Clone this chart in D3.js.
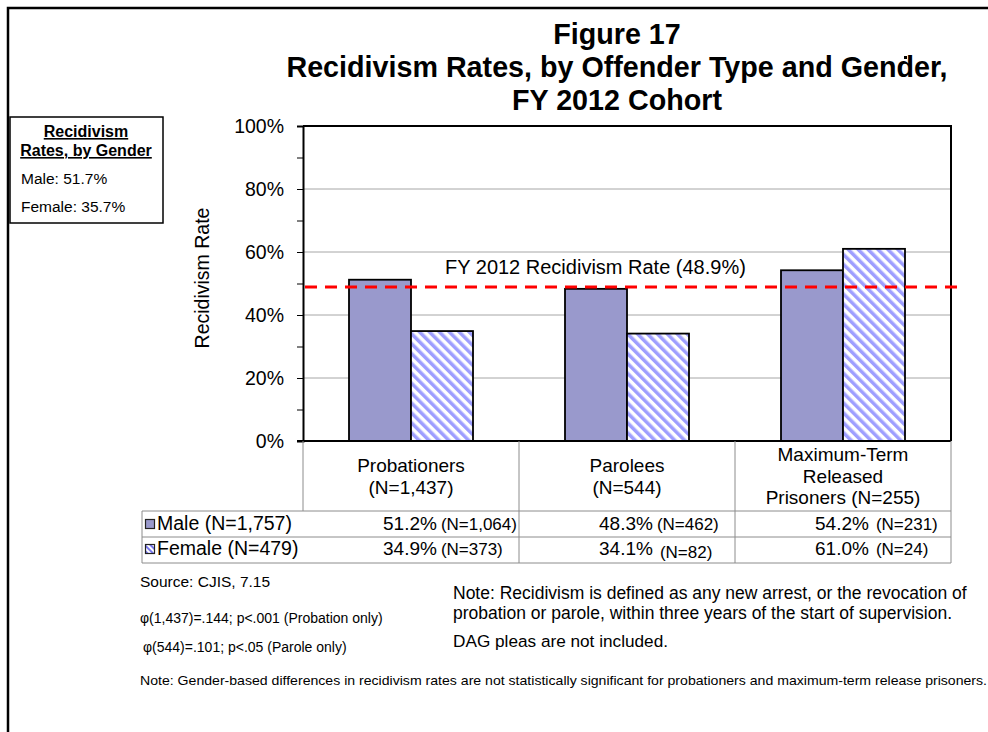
<!DOCTYPE html>
<html>
<head>
<meta charset="utf-8">
<script src="https://cdn.jsdelivr.net/npm/d3@7/dist/d3.min.js"></script>
<style>
  html, body { margin: 0; padding: 0; background: #fff; }
  svg { display: block; font-family: "Liberation Sans", Arial, Helvetica, sans-serif; }
</style>
</head>
<body>
<svg id="chart" width="988" height="732"></svg>
<script>
// Recidivism rates by offender type and gender
const categories = [
  ["Probationers", "(N=1,437)"],
  ["Parolees", "(N=544)"],
  ["Maximum-Term", "Released", "Prisoners (N=255)"]
];
const seriesNames = ["Male", "Female"];
const seriesLabels = ["Male (N=1,757)", "Female (N=479)"];
const maleRates = [51.2, 48.3, 54.2];
const femaleRates = [34.9, 34.1, 61.0];
const maleN = ["(N=1,064)", "(N=462)", "(N=231)"];
const femaleN = ["(N=373)", "(N=82)", "(N=24)"];
const overallRate = 48.9;
const yTickValues = [0, 10, 20, 30, 40, 50, 60, 70, 80, 90, 100];
const yLabelValues = [0, 20, 40, 60, 80, 100];
const titleLines = ["Figure 17", "Recidivism Rates, by Offender Type and Gender,", "FY 2012 Cohort"];
const genderBoxTitle = ["Recidivism", "Rates, by Gender"];
const genderBoxLines = ["Male: 51.7%", "Female: 35.7%"];
const sourceLines = ["Source: CJIS, 7.15"];
const statLines = ["\u03c6(1,437)=.144; p<.001 (Probation only)", "\u03c6(544)=.101; p<.05 (Parole only)"];
const noteLines = [
  "Note: Recidivism is defined as any new arrest, or the revocation of",
  "probation or parole, within three years of the start of supervision."
];
const dagNote = "DAG pleas are not included.";
const bottomNote = "Note: Gender-based differences in recidivism rates are not statistically significant for probationers and maximum-term release prisoners.";

const MALE_FILL = "#9999cc";
const HATCH = "#9e9eff";

const svg = d3.select("#chart");

// hatch pattern for the female series
const defs = svg.append("defs");
const pat = defs.append("pattern")
  .attr("id", "hatch")
  .attr("patternUnits", "userSpaceOnUse")
  .attr("width", 7).attr("height", 7)
  .attr("patternTransform", "rotate(-45)");
pat.append("rect").attr("width", 7).attr("height", 7).attr("fill", "#fff");
pat.append("rect").attr("width", 3.5).attr("height", 7).attr("fill", HATCH);

const pat2 = defs.append("pattern")
  .attr("id", "hatchSmall")
  .attr("patternUnits", "userSpaceOnUse")
  .attr("width", 4).attr("height", 4)
  .attr("patternTransform", "rotate(-45)");
pat2.append("rect").attr("width", 4).attr("height", 4).attr("fill", "#fff");
pat2.append("rect").attr("width", 2).attr("height", 4).attr("fill", "#7777ee");

// page frame
svg.append("path")
  .attr("d", "M8,732 V8 H988")
  .attr("fill", "none").attr("stroke", "#000").attr("stroke-width", 2.5);
svg.append("rect").attr("x", 904).attr("y", 56).attr("width", 3).attr("height", 3).attr("fill", "#000");

// title
const title = svg.append("text").attr("text-anchor", "middle")
  .attr("font-weight", "bold").attr("font-size", 28.7).attr("fill", "#000");
titleLines.forEach((t, i) => {
  title.append("tspan").attr("x", 617).attr("y", 44 + i * 33).text(t);
});

// scales
const plotLeft = 303, plotRight = 951, plotTop = 126, plotBottom = 441;
const x = d3.scaleBand().domain(d3.range(categories.length)).range([plotLeft, plotRight]);
const xs = d3.scaleBand().domain(seriesNames).range([46, 170]);
const y = d3.scaleLinear().domain([0, 100]).range([plotBottom, plotTop]);

// gridlines
svg.append("g").selectAll("line")
  .data(yLabelValues.filter(v => v > 0 && v < 100))
  .join("line")
  .attr("x1", plotLeft).attr("x2", plotRight)
  .attr("y1", d => y(d)).attr("y2", d => y(d))
  .attr("stroke", "#a6a6a6").attr("stroke-width", 1);

// bars
const rows = categories.map((c, i) => ({ i, Male: maleRates[i], Female: femaleRates[i] }));
const groups = svg.append("g").selectAll("g")
  .data(rows).join("g")
  .attr("transform", d => `translate(${x(d.i)},0)`);
groups.selectAll("rect")
  .data(d => seriesNames.map(s => ({ s, v: d[s] })))
  .join("rect")
  .attr("x", d => xs(d.s))
  .attr("width", xs.bandwidth())
  .attr("y", d => y(d.v))
  .attr("height", d => y(0) - y(d.v))
  .attr("fill", d => d.s === "Male" ? MALE_FILL : "url(#hatch)")
  .attr("stroke", "#000").attr("stroke-width", 1.8);

// plot frame (top and right)
svg.append("path")
  .attr("d", `M${plotLeft},${plotTop} H${plotRight} V${plotBottom}`)
  .attr("fill", "none").attr("stroke", "#000").attr("stroke-width", 2);

// y axis
const yAxis = svg.append("g")
  .attr("transform", `translate(${plotLeft},0)`)
  .call(d3.axisLeft(y).tickValues(yTickValues)
    .tickFormat(d => yLabelValues.includes(d) ? d + "%" : "")
    .tickSize(6).tickPadding(13));
yAxis.select(".domain").attr("stroke", "#000").attr("stroke-width", 2);
yAxis.selectAll(".tick line").attr("stroke", "#000").attr("stroke-width", 1);
yAxis.selectAll(".tick text")
  .attr("font-size", 19.5).attr("fill", "#000")
  .attr("font-family", "Liberation Sans, Arial, sans-serif");

// baseline
svg.append("line")
  .attr("x1", plotLeft - 6).attr("x2", plotRight)
  .attr("y1", y(0)).attr("y2", y(0))
  .attr("stroke", "#000").attr("stroke-width", 2);

// y axis title
svg.append("text")
  .attr("transform", `translate(209,278) rotate(-90)`)
  .attr("text-anchor", "middle").attr("font-size", 19.5).attr("fill", "#000")
  .text("Recidivism Rate");

// overall rate reference line
svg.append("line")
  .attr("x1", plotLeft + 2).attr("x2", 959)
  .attr("y1", y(overallRate)).attr("y2", y(overallRate))
  .attr("stroke", "#ff0000").attr("stroke-width", 3)
  .attr("stroke-dasharray", "12,8");
svg.append("text")
  .attr("x", 445).attr("y", 274)
  .attr("font-size", 20).attr("fill", "#000")
  .text(`FY 2012 Recidivism Rate (${overallRate}%)`);

// data table: category header cells
const tableLine = "#8c8c8c";
const headerBottom = 511, row1Bottom = 537, row2Bottom = 563, tableLeft = 142;
svg.append("g").selectAll("line")
  .data(d3.range(categories.length + 1))
  .join("line")
  .attr("x1", d => d < categories.length ? x(d) : plotRight)
  .attr("x2", d => d < categories.length ? x(d) : plotRight)
  .attr("y1", plotBottom).attr("y2", d => d === 0 ? headerBottom : row2Bottom)
  .attr("stroke", tableLine).attr("stroke-width", 1);
[headerBottom, row1Bottom, row2Bottom].forEach(yy => {
  svg.append("line").attr("x1", tableLeft).attr("x2", plotRight)
    .attr("y1", yy).attr("y2", yy).attr("stroke", tableLine).attr("stroke-width", 1);
});
svg.append("line").attr("x1", tableLeft).attr("x2", tableLeft)
  .attr("y1", headerBottom).attr("y2", row2Bottom)
  .attr("stroke", tableLine).attr("stroke-width", 1);

categories.forEach((lines, i) => {
  const cx = x(i) + x.bandwidth() / 2;
  const startY = lines.length === 2 ? 472 : 461;
  const t = svg.append("text").attr("text-anchor", "middle")
    .attr("font-size", 19).attr("fill", "#000");
  lines.forEach((ln, j) => {
    t.append("tspan").attr("x", cx).attr("y", startY + j * 21.5).text(ln);
  });
});

// data table: series rows
const seriesRows = [
  { name: seriesLabels[0], fill: MALE_FILL, vals: maleRates, ns: maleN, y: 530 },
  { name: seriesLabels[1], fill: "url(#hatchSmall)", vals: femaleRates, ns: femaleN, y: 555 }
];
const nShift = [[0, 0, 3], [0, 3, 3]];
const nDrop = [[0, 0, 0], [0, 3, 0]];
seriesRows.forEach((r, k) => {
  svg.append("rect").attr("x", 145.5).attr("y", r.y - 10.5)
    .attr("width", 9).attr("height", 9)
    .attr("fill", r.fill).attr("stroke", "#222").attr("stroke-width", 1.2);
  svg.append("text").attr("x", 157).attr("y", r.y)
    .attr("font-size", 19.5).attr("fill", "#000").text(r.name);
  r.vals.forEach((v, i) => {
    const t = svg.append("text").attr("x", x(i) + 80).attr("y", r.y)
      .attr("fill", "#000");
    t.append("tspan").attr("font-size", 19).text(v.toFixed(1) + "%");
    t.append("tspan").attr("font-size", 17)
      .attr("dx", 4 + nShift[k][i]).attr("dy", nDrop[k][i]).text(r.ns[i]);
  });
});

// gender summary box
svg.append("rect").attr("x", 10).attr("y", 117).attr("width", 153).attr("height", 106)
  .attr("fill", "#fff").attr("stroke", "#000").attr("stroke-width", 1.5);
genderBoxTitle.forEach((t, i) => {
  svg.append("text").attr("x", 86).attr("y", 137 + i * 19)
    .attr("text-anchor", "middle").attr("font-size", 16).attr("font-weight", "bold")
    .attr("text-decoration", "underline").attr("fill", "#000").text(t);
});
genderBoxLines.forEach((t, i) => {
  svg.append("text").attr("x", 21).attr("y", 184 + i * 28)
    .attr("font-size", 15.5).attr("fill", "#000").text(t);
});

// footnotes
svg.append("text").attr("x", 140).attr("y", 587)
  .attr("font-size", 15.5).attr("fill", "#000").text(sourceLines[0]);
statLines.forEach((t, i) => {
  svg.append("text").attr("x", 140 + i * 3).attr("y", 623 + i * 29)
    .attr("font-size", 14).attr("fill", "#000").text(t);
});
noteLines.forEach((t, i) => {
  svg.append("text").attr("x", 453).attr("y", 599 + i * 20)
    .attr("font-size", 17.5).attr("fill", "#000").text(t);
});
svg.append("text").attr("x", 453).attr("y", 647)
  .attr("font-size", 17.2).attr("fill", "#000").text(dagNote);
svg.append("text").attr("x", 140).attr("y", 685)
  .attr("font-size", 13.5).attr("fill", "#000")
  .attr("textLength", 847).attr("lengthAdjust", "spacingAndGlyphs")
  .text(bottomNote);
</script>
</body>
</html>
